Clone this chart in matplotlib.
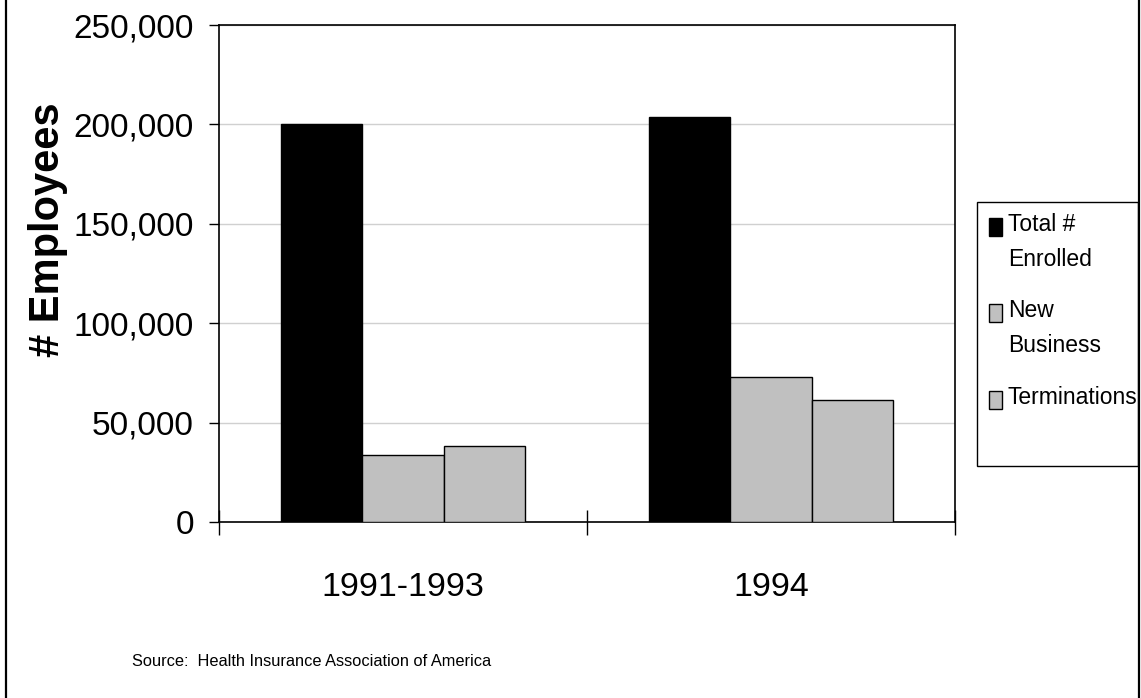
import matplotlib
matplotlib.use("Agg")
import matplotlib.pyplot as plt
from matplotlib.patches import Rectangle
from matplotlib.lines import Line2D
from matplotlib.ticker import FuncFormatter
import numpy as np

# data
periods = ["1991-1993", "1994"]
series = ["Total #\nEnrolled", "New\nBusiness", "Terminations"]
total_enrolled = [200000, 203500]
new_business = [33500, 73000]
terminations = [38000, 61500]

colors = ["#000000", "#c0c0c0", "#c0c0c0"]

plt.rcParams["font.family"] = ["Liberation Sans", "DejaVu Sans"]

W, H = 1141, 698
fig = plt.figure(figsize=(W / 100, H / 100), dpi=100)
ax = fig.add_axes([219 / W, 1 - 522 / H, 736 / W, 497 / H])

x = np.arange(len(periods))
w = 0.2215
for i, vals in enumerate([total_enrolled, new_business, terminations]):
    ax.bar(x + (i - 1) * w, vals, width=w, color=colors[i],
           edgecolor="black", linewidth=1.0, zorder=3)

ax.set_xlim(-0.5, len(periods) - 0.5)
ax.set_ylim(0, 250000)
ax.set_yticks(np.arange(0, 250001, 50000))
ax.yaxis.set_major_formatter(FuncFormatter(lambda v, p: f"{int(v):,}"))
ax.yaxis.grid(True, color="#d0d0d0", linewidth=1.0, zorder=0)

ax.set_xticks(x)
ax.set_xticklabels(periods)
ax.set_xticks(np.arange(-0.5, len(periods)), minor=True)
ax.tick_params(axis="x", which="major", length=0, pad=36, labelsize=24.5)
ax.tick_params(axis="x", which="minor", direction="inout", length=18, width=1.0)
ax.tick_params(axis="y", direction="out", length=7, width=1.0, pad=11, labelsize=24)

for s in ax.spines.values():
    s.set_linewidth(1.2)
    s.set_color("black")

# y axis title
fig.text(48 / W, 1 - 230 / H, "# Employees", rotation=90, ha="center",
         va="center", fontsize=30, fontweight="bold")

# legend, drawn by hand so each swatch sits on the first line of its label
fig.add_artist(Rectangle((977 / W, 1 - 466 / H), (1138 - 977) / W,
                         (466 - 202) / H, transform=fig.transFigure,
                         fill=False, edgecolor="black", linewidth=1.0))
baselines = [231, 317, 404]
for label, c, yb in zip(series, colors, baselines):
    fig.add_artist(Rectangle((989 / W, 1 - (yb + 5) / H), 13 / W, 18 / H,
                             transform=fig.transFigure, facecolor=c,
                             edgecolor="black", linewidth=1.0))
    lines = label.split("\n")
    for k, line in enumerate(lines):
        fig.text(1008 / W, 1 - (yb + 35 * k) / H, line, ha="left",
                 va="baseline", fontsize=16.5)

fig.text(132 / W, 1 - 662 / H,
         "Source:  Health Insurance Association of America",
         ha="left", va="center", fontsize=11.8)

# outer frame
for xf in (6 / W, 1139 / W):
    fig.add_artist(Line2D([xf, xf], [0, 1], transform=fig.transFigure,
                          color="black", linewidth=1.6))

fig.savefig("out.png", dpi=100)
